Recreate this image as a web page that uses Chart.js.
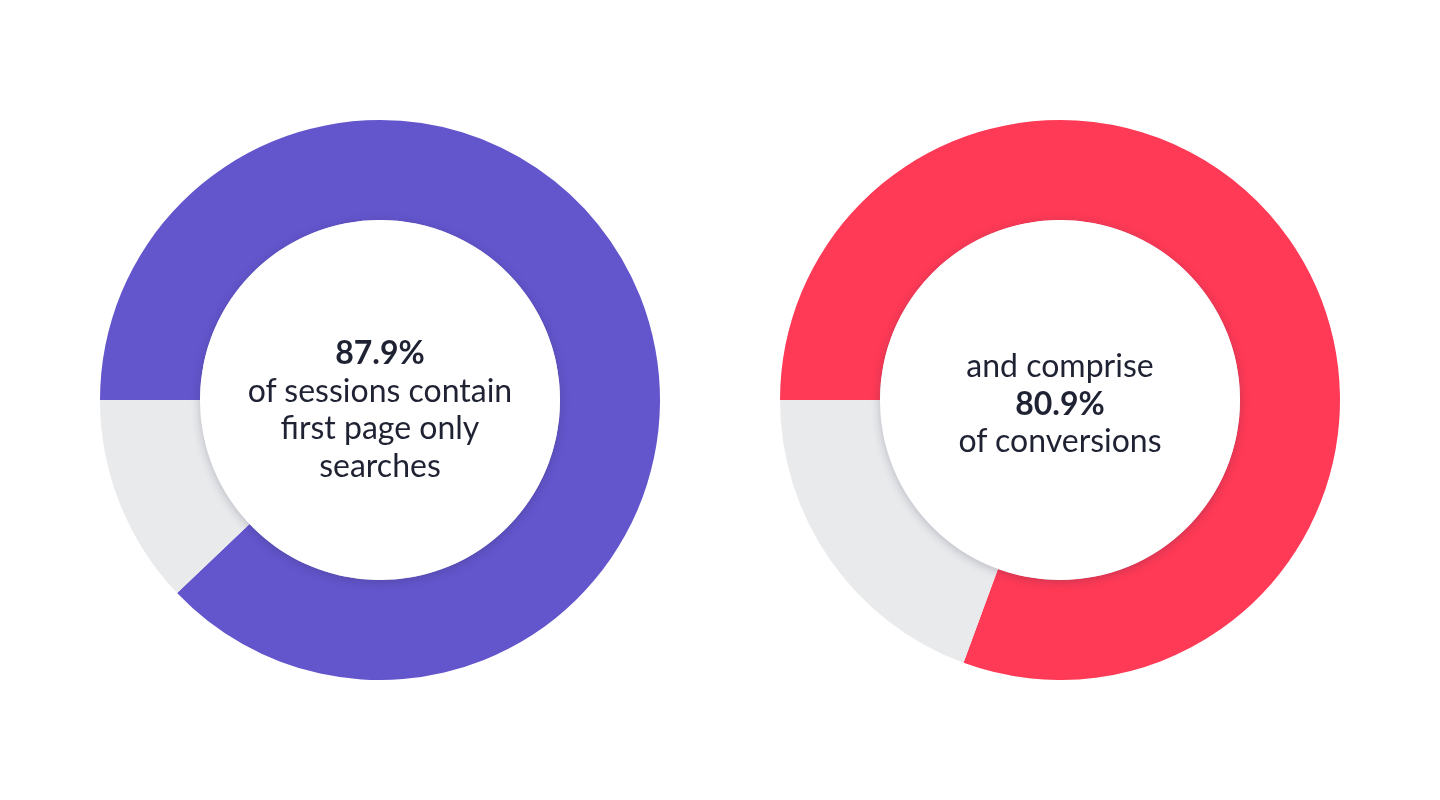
<!DOCTYPE html>
<html>
<head>
<meta charset="utf-8">
<script src="https://cdn.jsdelivr.net/npm/chart.js@4/dist/chart.umd.min.js"></script>
<style>
  html, body { margin: 0; padding: 0; background: #ffffff; width: 1440px; height: 800px; overflow: hidden; }
  .box { position: absolute; width: 560px; height: 560px; top: 120px; }
  #boxL { left: 100px; }
  #boxR { left: 780px; }
  .label { position: absolute; width: 360px; text-align: center; font-family: Lato, sans-serif; font-size: 32px; line-height: 37.7px; color: #1F2233; }
  .label b { font-weight: 700; }
</style>
</head>
<body>
<div class="box" id="boxL"><canvas id="cL"></canvas></div>
<div class="box" id="boxR"><canvas id="cR"></canvas></div>
<div class="label" id="tL" style="left:200px; top:333px;"></div>
<div class="label" id="tR" style="left:880px; top:346px;"></div>
<script>
const categories = ['Matching', 'Other'];
const sessionsValues = [87.9, 12.1];
const conversionsValues = [80.6, 19.4];
const sessionsColors = ['#6355CC', '#E9EAEC'];
const conversionsColors = ['#FF3A56', '#E9EAEC'];
const sessionsText = ['87.9%', 'of sessions contain', 'first page only', 'searches'];
const conversionsText = ['and comprise', '80.9%', 'of conversions'];

document.getElementById('tL').innerHTML = '<b>' + sessionsText[0] + '</b><br>' + sessionsText.slice(1).join('<br>');
document.getElementById('tR').innerHTML = conversionsText[0] + '<br><b>' + conversionsText[1] + '</b><br>' + conversionsText[2];

const innerShadow = {
  id: 'innerShadow',
  afterDatasetsDraw(chart) {
    const arc = chart.getDatasetMeta(0).data[0];
    if (!arc) return;
    const ctx = chart.ctx;
    ctx.save();
    ctx.beginPath();
    ctx.arc(arc.x, arc.y, arc.innerRadius, 0, Math.PI * 2);
    ctx.shadowColor = 'rgba(40, 40, 70, 0.25)';
    ctx.shadowBlur = 10;
    ctx.shadowOffsetY = 2;
    ctx.fillStyle = '#ffffff';
    ctx.fill();
    ctx.restore();
  }
};

function makeChart(id, values, colors) {
  return new Chart(document.getElementById(id), {
    type: 'doughnut',
    data: {
      labels: categories,
      datasets: [{ data: values, backgroundColor: colors, borderWidth: 0, hoverOffset: 0 }]
    },
    options: {
      responsive: true,
      maintainAspectRatio: false,
      animation: false,
      rotation: -90,
      cutout: '64.3%',
      layout: { padding: 0 },
      plugins: { legend: { display: false }, tooltip: { enabled: false } },
      events: []
    },
    plugins: [innerShadow]
  });
}
makeChart('cL', sessionsValues, sessionsColors);
makeChart('cR', conversionsValues, conversionsColors);
</script>
</body>
</html>
